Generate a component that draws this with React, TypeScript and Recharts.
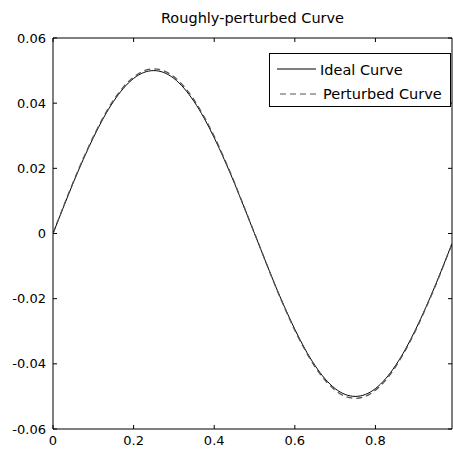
import { CartesianGrid, Line, LineChart, XAxis, YAxis } from "recharts";

// valores (passo de 0.025 em x)
const xValues = [
  0, 0.025, 0.05, 0.075, 0.1, 0.125, 0.15, 0.175, 0.2, 0.225, 0.25, 0.275, 0.3,
  0.325, 0.35, 0.375, 0.4, 0.425, 0.45, 0.475, 0.5, 0.525, 0.55, 0.575, 0.6,
  0.625, 0.65, 0.675, 0.7, 0.725, 0.75, 0.775, 0.8, 0.825, 0.85, 0.875, 0.9,
  0.925, 0.95, 0.975, 0.99,
];

const idealValues = [
  0, 0.0078, 0.0155, 0.0227, 0.0294, 0.0354, 0.0405, 0.0446, 0.0476, 0.0494,
  0.05, 0.0494, 0.0476, 0.0446, 0.0405, 0.0354, 0.0294, 0.0227, 0.0155, 0.0078,
  0, -0.0078, -0.0155, -0.0227, -0.0294, -0.0354, -0.0405, -0.0446, -0.0476,
  -0.0494, -0.05, -0.0494, -0.0476, -0.0446, -0.0405, -0.0354, -0.0294, -0.0227,
  -0.0155, -0.0078, -0.0031,
];

const perturbedValues = [
  0, 0.008, 0.0157, 0.023, 0.0297, 0.0357, 0.0409, 0.045, 0.048, 0.0499,
  0.0505, 0.0499, 0.0481, 0.0451, 0.041, 0.0358, 0.0298, 0.023, 0.0157, 0.0079,
  0.0001, -0.0078, -0.0156, -0.0229, -0.0297, -0.0357, -0.0409, -0.045, -0.0481,
  -0.05, -0.0506, -0.05, -0.0481, -0.0451, -0.0409, -0.0357, -0.0297, -0.0229,
  -0.0157, -0.0079, -0.0032,
];

const xTicks = [0, 0.2, 0.4, 0.6, 0.8];
const yTicks = [-0.06, -0.04, -0.02, 0, 0.02, 0.04, 0.06];

const seriesNames = ["Ideal Curve", "Perturbed Curve"];
const title = "Roughly-perturbed Curve";

const data = xValues.map((x, i) => ({
  x,
  ideal: idealValues[i],
  perturbed: perturbedValues[i],
}));

const font = "'DejaVu Sans', Arial, sans-serif";
const tickStyle = { fill: "#000", fontSize: 13, fontFamily: font };

function LegendBox() {
  return (
    <div
      style={{
        position: "absolute",
        left: 269,
        top: 53,
        width: 180,
        height: 52,
        border: "1px solid #000",
        background: "#fff",
        fontFamily: font,
        fontSize: 14.5,
        color: "#000",
      }}
    >
      <svg width={180} height={52} style={{ position: "absolute", left: 0, top: 0 }}>
        <line x1={7} x2={46} y1={15} y2={15} stroke="#000" strokeWidth={1} />
        <line x1={10} x2={47} y1={40} y2={40} stroke="#555" strokeWidth={1} strokeDasharray="6 4" />
      </svg>
      <div style={{ position: "absolute", left: 50, top: 6, lineHeight: "20px" }}>
        {seriesNames[0]}
      </div>
      <div style={{ position: "absolute", left: 53, top: 30, lineHeight: "20px" }}>
        {seriesNames[1]}
      </div>
    </div>
  );
}

export default function App() {
  return (
    <div style={{ position: "absolute", left: 0, top: 0, width: 453, height: 451, background: "#fff" }}>
      <div
        style={{
          position: "absolute",
          left: 53,
          width: 399,
          top: 8,
          textAlign: "center",
          fontFamily: font,
          fontSize: 14.5,
          lineHeight: "20px",
          color: "#000",
        }}
      >
        {title}
      </div>
      <LineChart
        width={453}
        height={451}
        data={data}
        margin={{ top: 37, right: 0, bottom: 0, left: 0 }}
      >
        <CartesianGrid stroke="none" />
        <XAxis
          dataKey="x"
          type="number"
          domain={[0, 0.99]}
          ticks={xTicks}
          height={22}
          tickSize={-4}
          tickMargin={11}
          stroke="#000"
          tick={tickStyle}
          allowDataOverflow
        />
        <XAxis
          xAxisId="top"
          orientation="top"
          dataKey="x"
          type="number"
          domain={[0, 0.99]}
          ticks={xTicks}
          height={1}
          tickSize={-4}
          tickFormatter={() => ""}
          stroke="#000"
          allowDataOverflow
        />
        <YAxis
          type="number"
          domain={[-0.06, 0.06]}
          ticks={yTicks}
          width={53}
          tickSize={-4}
          tickMargin={11}
          stroke="#000"
          tick={tickStyle}
          tickFormatter={(v: number) => (v === 0 ? "0" : String(v))}
          allowDataOverflow
        />
        <YAxis
          yAxisId="right"
          orientation="right"
          type="number"
          domain={[-0.06, 0.06]}
          ticks={yTicks}
          width={1}
          tickSize={-4}
          tickFormatter={() => ""}
          stroke="#000"
          allowDataOverflow
        />
        <Line
          dataKey="ideal"
          type="monotone"
          stroke="#000"
          strokeWidth={1}
          dot={false}
          isAnimationActive={false}
        />
        <Line
          dataKey="perturbed"
          type="monotone"
          stroke="#555"
          strokeWidth={1.3}
          strokeDasharray="6 4"
          dot={false}
          isAnimationActive={false}
        />
      </LineChart>
      <LegendBox />
    </div>
  );
}
